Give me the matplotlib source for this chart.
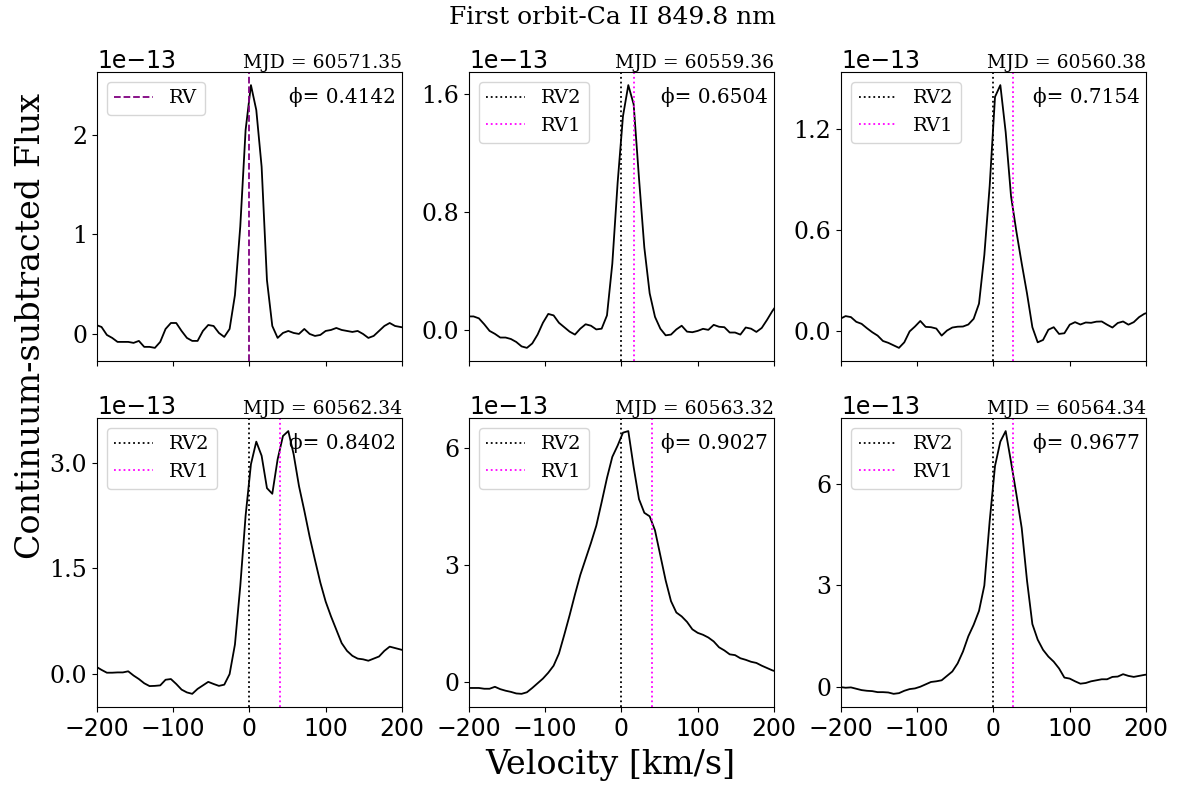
import matplotlib
matplotlib.use('Agg')
import matplotlib.pyplot as plt
import numpy as np

# velocity grid (km/s)
velocity = [-201, -194, -187, -180, -173, -166, -159, -152, -145, -138,
            -131, -124, -117, -110, -103, -96, -89, -82, -75, -68,
            -61, -54, -47, -40, -33, -26, -19, -12, -5, 2,
            9, 16, 23, 30, 37, 44, 51, 58, 65, 72,
            79, 86, 93, 100, 107, 114, 121, 128, 135, 142,
            149, 156, 163, 170, 177, 184, 191, 198, 205]

# continuum-subtracted flux, units of 1e-13
flux_60571 = [0.09, 0.07, -0.01, -0.04, -0.08, -0.08, -0.08, -0.09, -0.07, -0.13,
              -0.13, -0.14, -0.08, 0.05, 0.11, 0.11, 0.03, -0.04, -0.07, -0.07,
              0.03, 0.09, 0.08, 0.01, -0.03, 0.05, 0.39, 1.08, 2.05, 2.50,
              2.25, 1.68, 0.54, 0.08, -0.04, 0.01, 0.03, 0.01, 0.0, 0.05,
              0.0, -0.02, -0.01, 0.03, 0.04, 0.06, 0.04, 0.03, 0.02, 0.03,
              0.0, -0.04, -0.02, 0.03, 0.08, 0.11, 0.08, 0.07, 0.06]
flux_60559 = [0.093, 0.093, 0.08, 0.04, -0.005, -0.025, -0.05, -0.05, -0.06, -0.08,
              -0.11, -0.12, -0.09, -0.03, 0.05, 0.11, 0.10, 0.05, 0.02, -0.01,
              -0.03, 0.01, 0.04, 0.03, 0.005, 0.01, 0.10, 0.45, 1.0, 1.45,
              1.66, 1.53, 1.03, 0.56, 0.25, 0.09, 0.01, -0.035, -0.03, 0.005,
              0.03, -0.01, -0.014, -0.005, 0.009, 0.002, 0.036, 0.023, 0.02, -0.016,
              -0.016, -0.03, 0.018, 0.01, -0.012, 0.015, 0.07, 0.13, 0.18]
flux_60560 = [0.07, 0.086, 0.08, 0.052, 0.04, 0.014, -0.01, -0.03, -0.062, -0.073,
              -0.088, -0.103, -0.07, -0.005, 0.024, 0.057, 0.022, 0.02, 0.012, -0.03,
              0.0, 0.018, 0.023, 0.024, 0.036, 0.07, 0.16, 0.45, 0.86, 1.39,
              1.46, 1.18, 0.80, 0.59, 0.40, 0.22, 0.02, -0.07, -0.056, 0.005,
              0.02, -0.02, -0.016, 0.035, 0.05, 0.036, 0.048, 0.046, 0.053, 0.054,
              0.035, 0.018, 0.045, 0.054, 0.035, 0.05, 0.08, 0.10, 0.11]
flux_60562 = [0.105, 0.06, 0.02, 0.02, 0.024, 0.024, 0.04, -0.02, -0.07, -0.13,
              -0.17, -0.167, -0.16, -0.08, -0.07, -0.14, -0.22, -0.26, -0.28, -0.21,
              -0.16, -0.11, -0.14, -0.167, -0.15, 0.0, 0.42, 1.25, 2.25, 2.98,
              3.30, 3.10, 2.64, 2.56, 3.05, 3.38, 3.45, 3.12, 2.67, 2.32,
              1.95, 1.62, 1.30, 1.03, 0.82, 0.63, 0.44, 0.33, 0.26, 0.22,
              0.21, 0.19, 0.22, 0.25, 0.33, 0.39, 0.37, 0.35, 0.33]
flux_60563 = [-0.15, -0.15, -0.15, -0.17, -0.17, -0.12, -0.18, -0.22, -0.25, -0.29,
              -0.30, -0.26, -0.15, -0.03, 0.09, 0.24, 0.42, 0.73, 1.21, 1.71,
              2.24, 2.74, 3.15, 3.56, 4.00, 4.60, 5.22, 5.76, 6.05, 6.38,
              6.42, 5.50, 4.68, 4.33, 4.24, 3.88, 3.24, 2.60, 2.07, 1.78,
              1.68, 1.54, 1.35, 1.26, 1.21, 1.14, 1.04, 0.89, 0.81, 0.71,
              0.69, 0.61, 0.57, 0.52, 0.49, 0.42, 0.36, 0.30, 0.26]
flux_60564 = [0.0, -0.02, -0.01, -0.05, -0.09, -0.11, -0.12, -0.15, -0.15, -0.16,
              -0.20, -0.18, -0.11, -0.06, -0.04, 0.01, 0.08, 0.15, 0.17, 0.20,
              0.33, 0.46, 0.70, 1.05, 1.50, 1.84, 2.25, 3.00, 4.90, 6.53,
              7.25, 7.56, 6.65, 5.70, 4.70, 3.14, 1.86, 1.40, 1.10, 0.90,
              0.75, 0.55, 0.28, 0.25, 0.17, 0.10, 0.12, 0.17, 0.20, 0.23,
              0.23, 0.30, 0.31, 0.38, 0.33, 0.30, 0.33, 0.36, 0.38]

fluxes = [flux_60571, flux_60559, flux_60560, flux_60562, flux_60563, flux_60564]
mjds = ['60571.35', '60559.36', '60560.38', '60562.34', '60563.32', '60564.34']
phases = ['0.4142', '0.6504', '0.7154', '0.8402', '0.9027', '0.9677']
rv2 = [0, 0, 0, 0, 0, 0]
rv1 = [None, 17, 25, 40, 40, 25]
yticks = [[0, 1, 2], [0, 0.8, 1.6], [0, 0.6, 1.2], [0, 1.5, 3.0], [0, 3, 6], [0, 3, 6]]

plt.rcParams['font.family'] = 'DejaVu Serif'

fig, axes = plt.subplots(2, 3, figsize=(11.78, 7.85), dpi=100, sharex=True)
fig.subplots_adjust(left=0.0823, right=0.9728, top=0.9083, bottom=0.0994,
                    wspace=0.22, hspace=0.197)

v = np.array(velocity)
for i, ax in enumerate(axes.flat):
    f = np.array(fluxes[i]) * 1e-13
    ax.plot(v, f, color='black', lw=1.3)
    if rv1[i] is None:
        ax.axvline(rv2[i], color='purple', ls='--', lw=1.3, label='RV')
    else:
        ax.axvline(rv2[i], color='black', ls=':', lw=1.3, label='RV2')
        ax.axvline(rv1[i], color='magenta', ls=':', lw=1.3, label='RV1')
    ax.set_xlim(-200, 200)
    ax.set_xticks([-200, -100, 0, 100, 200])
    ax.set_yticks(np.array(yticks[i]) * 1e-13)
    ax.tick_params(axis='y', labelsize=17)
    ax.tick_params(axis='x', labelsize=17)
    for lab in ax.get_xticklabels():
        lab.set_family('DejaVu Sans')
    ax.yaxis.get_offset_text().set_fontsize(17)
    ax.yaxis.get_offset_text().set_family('DejaVu Sans')
    ax.set_title('MJD = ' + mjds[i], loc='right', fontsize=13.5, pad=3)
    ax.text(0.98, 0.915, '\u03d5= ' + phases[i], transform=ax.transAxes,
            ha='right', va='center', fontsize=14.4)
    ax.legend(loc='upper left', fontsize=14)

fig.text(0.52, 0.978, 'First orbit-Ca II 849.8 nm', fontsize=18,
         ha='center', va='center')
fig.text(0.518, 0.025, 'Velocity [km/s]', fontsize=24, ha='center', va='center')
fig.text(0.026, 0.585, 'Continuum-subtracted Flux', fontsize=24,
         rotation=90, ha='center', va='center')

fig.savefig('out.png', dpi=100)
